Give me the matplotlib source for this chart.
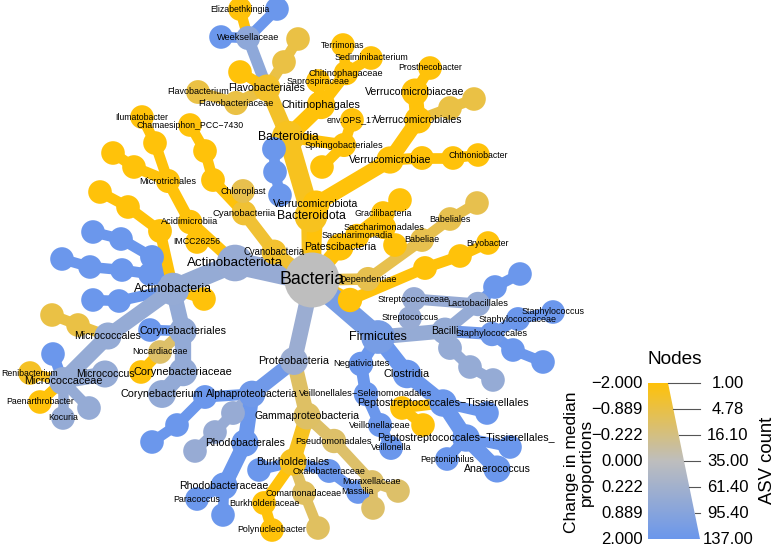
import numpy as np
import matplotlib
import matplotlib.pyplot as plt
from matplotlib.collections import LineCollection
from matplotlib.colors import LinearSegmentedColormap
from matplotlib.patches import Circle, Polygon

plt.rcParams['font.family'] = ['Liberation Sans', 'DejaVu Sans']

# legend scales (equally spaced ticks)
change_ticks = [-2.0, -0.889, -0.222, 0.0, 0.222, 0.889, 2.0]
asv_ticks = [1.00, 4.78, 16.10, 35.00, 61.40, 95.40, 137.00]

# taxonomy: child -> parent (names starting with "_" are drawn without label)
parent = {
    'Bacteria': None,
    'Actinobacteriota': 'Bacteria', 'Actinobacteria': 'Actinobacteriota',
    '_act_o1': 'Actinobacteria', '_act_f1': '_act_o1', '_act_g1': '_act_f1',
    '_act_o2': 'Actinobacteria', '_act_f2': '_act_o2', '_act_g2': '_act_f2', '_act_s2': '_act_g2',
    '_act_o3': 'Actinobacteria', '_act_g3': '_act_o3',
    '_act_y1': 'Actinobacteria',
    '_act_oy': 'Actinobacteria', '_act_fy': '_act_oy', '_act_gy': '_act_fy',
    'Micrococcales': 'Actinobacteria', '_mic_f1': 'Micrococcales', '_mic_g1': '_mic_f1',
    'Micrococcaceae': 'Micrococcales', '_mic_b': 'Micrococcaceae', 'Micrococcus': 'Micrococcaceae',
    'Renibacterium': 'Micrococcaceae', 'Paenarthrobacter': 'Micrococcaceae',
    'Kocuria': 'Micrococcaceae', '_mic_g5': 'Micrococcaceae',
    'Corynebacteriales': 'Actinobacteria', '_cor_b': 'Corynebacteriales',
    'Nocardiaceae': 'Corynebacteriales', '_noc_g': 'Nocardiaceae',
    'Corynebacteriaceae': 'Corynebacteriales', 'Corynebacterium': 'Corynebacteriaceae',
    'Acidimicrobiia': 'Actinobacteriota', 'IMCC26256': 'Acidimicrobiia',
    'Microtrichales': 'Acidimicrobiia', '_mt_f1': 'Microtrichales', 'Ilumatobacter': '_mt_f1',
    '_mt_f2': 'Microtrichales', '_mt_g2': '_mt_f2',
    'Cyanobacteria': 'Bacteria', 'Cyanobacteriia': 'Cyanobacteria', 'Chloroplast': 'Cyanobacteriia',
    '_cy_o': 'Cyanobacteriia', '_cy_f': '_cy_o', 'Chamaesiphon_PCC\u22127430': '_cy_f',
    'Bacteroidota': 'Bacteria', 'Bacteroidia': 'Bacteroidota',
    '_bd_o': 'Bacteroidia', '_bd_f': '_bd_o', '_bd_g': '_bd_f',
    'Flavobacteriales': 'Bacteroidia', 'Weeksellaceae': 'Flavobacteriales',
    '_wk_b1': 'Weeksellaceae', '_wk_b2': 'Weeksellaceae', 'Elizabethkingia': 'Weeksellaceae',
    '_fl_f1': 'Flavobacteriales', '_fl_g1': '_fl_f1', '_fl_y': 'Flavobacteriales',
    'Flavobacteriaceae': 'Flavobacteriales', 'Flavobacterium': 'Flavobacteriaceae',
    'Chitinophagales': 'Bacteroidia', 'Saprospiraceae': 'Chitinophagales',
    'Chitinophagaceae': 'Chitinophagales', 'Terrimonas': 'Chitinophagaceae',
    'Sediminibacterium': 'Chitinophagaceae',
    'Sphingobacteriales': 'Bacteroidia', 'env.OPS_17': 'Sphingobacteriales', '_sph_y': 'Sphingobacteriales',
    'Verrucomicrobiota': 'Bacteria', 'Verrucomicrobiae': 'Verrucomicrobiota',
    'Verrucomicrobiales': 'Verrucomicrobiae', 'Verrucomicrobiaceae': 'Verrucomicrobiales',
    'Prosthecobacter': 'Verrucomicrobiaceae', '_vr_f2': 'Verrucomicrobiales', '_vr_g2': '_vr_f2',
    '_ch_o': 'Verrucomicrobiae', '_ch_f': '_ch_o', 'Chthoniobacter': '_ch_f',
    'Patescibacteria': 'Bacteria', 'Saccharimonadia': 'Patescibacteria',
    'Saccharimonadales': 'Saccharimonadia', '_sac_g': 'Saccharimonadales',
    'Gracilibacteria': 'Patescibacteria', '_gr_g': 'Gracilibacteria',
    'Dependentiae': 'Bacteria', 'Babeliae': 'Dependentiae', 'Babeliales': 'Babeliae', '_bab_g': 'Babeliales',
    '_acb_p': 'Bacteria', '_acb_c': '_acb_p', '_acb_o': '_acb_c', 'Bryobacter': '_acb_o',
    'Firmicutes': 'Bacteria', 'Bacilli': 'Firmicutes', 'Lactobacillales': 'Bacilli',
    'Streptococcaceae': 'Lactobacillales', 'Streptococcus': 'Streptococcaceae',
    '_lac_f': 'Lactobacillales', '_lac_g': '_lac_f',
    'Staphylococcales': 'Bacilli', 'Staphylococcaceae': 'Staphylococcales',
    'Staphylococcus': 'Staphylococcaceae', '_st_f': 'Staphylococcales', '_st_g': '_st_f',
    '_bac_o3': 'Bacilli', '_bac_f3': '_bac_o3', '_bac_g3': '_bac_f3',
    'Clostridia': 'Firmicutes',
    'Peptostreptococcales\u2212Tissierellales': 'Clostridia',
    '_pt_y': 'Peptostreptococcales\u2212Tissierellales', '_pt_y2': '_pt_y',
    '_pt_b': 'Peptostreptococcales\u2212Tissierellales',
    'Peptostreptococcales\u2212Tissierellales_': 'Peptostreptococcales\u2212Tissierellales',
    'Peptoniphilus': 'Peptostreptococcales\u2212Tissierellales_',
    'Anaerococcus': 'Peptostreptococcales\u2212Tissierellales_',
    '_ptf_b': 'Peptostreptococcales\u2212Tissierellales_',
    'Negativicutes': 'Firmicutes', 'Veillonellales\u2212Selenomonadales': 'Negativicutes',
    'Veillonellaceae': 'Veillonellales\u2212Selenomonadales', 'Veillonella': 'Veillonellaceae',
    'Proteobacteria': 'Bacteria', 'Alphaproteobacteria': 'Proteobacteria',
    '_al_o1': 'Alphaproteobacteria', '_al_f1': '_al_o1', '_al_g1': '_al_f1',
    '_al_o2': 'Alphaproteobacteria', '_al_f2': '_al_o2', '_al_g2': '_al_f2',
    'Rhodobacterales': 'Alphaproteobacteria', 'Rhodobacteraceae': 'Rhodobacterales',
    'Paracoccus': 'Rhodobacteraceae', '_rb_g': 'Rhodobacteraceae',
    'Gammaproteobacteria': 'Proteobacteria', 'Burkholderiales': 'Gammaproteobacteria',
    '_bk_b1': 'Burkholderiales', 'Oxalobacteraceae': 'Burkholderiales', 'Massilia': 'Oxalobacteraceae',
    'Comamonadaceae': 'Burkholderiales', '_cm_g': 'Comamonadaceae',
    'Burkholderiaceae': 'Burkholderiales', 'Polynucleobacter': 'Burkholderiaceae',
    'Pseudomonadales': 'Gammaproteobacteria', 'Moraxellaceae': 'Pseudomonadales',
    '_mx_g1': 'Moraxellaceae', '_mx_g2': 'Moraxellaceae',
}

# ASV count per taxon
asv = {
    'Bacteria': 137, 'Actinobacteriota': 60, 'Actinobacteria': 43,
    '_act_o1': 3, '_act_f1': 2, '_act_g1': 1, '_act_o2': 3, '_act_f2': 2, '_act_g2': 1, '_act_s2': 1,
    '_act_o3': 2, '_act_g3': 1, '_act_y1': 1, '_act_oy': 3, '_act_fy': 2, '_act_gy': 1,
    'Micrococcales': 18, '_mic_f1': 2, '_mic_g1': 1, 'Micrococcaceae': 22, '_mic_b': 1,
    'Micrococcus': 18, 'Renibacterium': 1, 'Paenarthrobacter': 1, 'Kocuria': 1, '_mic_g5': 2,
    'Corynebacteriales': 20, '_cor_b': 1, 'Nocardiaceae': 2, '_noc_g': 1,
    'Corynebacteriaceae': 25, 'Corynebacterium': 22,
    'Acidimicrobiia': 5, 'IMCC26256': 1, 'Microtrichales': 4, '_mt_f1': 2, 'Ilumatobacter': 1,
    '_mt_f2': 2, '_mt_g2': 1,
    'Cyanobacteria': 8, 'Cyanobacteriia': 7, 'Chloroplast': 3, '_cy_o': 3, '_cy_f': 2,
    'Chamaesiphon_PCC\u22127430': 1,
    'Bacteroidota': 44, 'Bacteroidia': 42, '_bd_o': 3, '_bd_f': 2, '_bd_g': 1,
    'Flavobacteriales': 18, 'Weeksellaceae': 4, '_wk_b1': 1, '_wk_b2': 1, 'Elizabethkingia': 1,
    '_fl_f1': 2, '_fl_g1': 1, '_fl_y': 1, 'Flavobacteriaceae': 4, 'Flavobacterium': 3,
    'Chitinophagales': 24, 'Saprospiraceae': 2, 'Chitinophagaceae': 5, 'Terrimonas': 1,
    'Sediminibacterium': 2, 'Sphingobacteriales': 4, 'env.OPS_17': 2, '_sph_y': 1,
    'Verrucomicrobiota': 18, 'Verrucomicrobiae': 19, 'Verrucomicrobiales': 17,
    'Verrucomicrobiaceae': 18, 'Prosthecobacter': 1, '_vr_f2': 2, '_vr_g2': 1,
    '_ch_o': 3, '_ch_f': 2, 'Chthoniobacter': 1,
    'Patescibacteria': 18, 'Saccharimonadia': 5, 'Saccharimonadales': 4, '_sac_g': 2,
    'Gracilibacteria': 2, '_gr_g': 1,
    'Dependentiae': 4, 'Babeliae': 3, 'Babeliales': 2, '_bab_g': 1,
    '_acb_p': 5, '_acb_c': 3, '_acb_o': 2, 'Bryobacter': 1,
    'Firmicutes': 48, 'Bacilli': 17, 'Lactobacillales': 5, 'Streptococcaceae': 3, 'Streptococcus': 2,
    '_lac_f': 2, '_lac_g': 1, 'Staphylococcales': 5, 'Staphylococcaceae': 3, 'Staphylococcus': 2,
    '_st_f': 2, '_st_g': 1, '_bac_o3': 3, '_bac_f3': 2, '_bac_g3': 1,
    'Clostridia': 25, 'Peptostreptococcales\u2212Tissierellales': 20, '_pt_y': 2, '_pt_y2': 1, '_pt_b': 1,
    'Peptostreptococcales\u2212Tissierellales_': 20, 'Peptoniphilus': 2, 'Anaerococcus': 18, '_ptf_b': 1,
    'Negativicutes': 6, 'Veillonellales\u2212Selenomonadales': 5, 'Veillonellaceae': 4, 'Veillonella': 3,
    'Proteobacteria': 22, 'Alphaproteobacteria': 16,
    '_al_o1': 3, '_al_f1': 2, '_al_g1': 1, '_al_o2': 3, '_al_f2': 2, '_al_g2': 1,
    'Rhodobacterales': 18, 'Rhodobacteraceae': 18, 'Paracoccus': 2, '_rb_g': 1,
    'Gammaproteobacteria': 18, 'Burkholderiales': 18, '_bk_b1': 1, 'Oxalobacteraceae': 3,
    'Massilia': 2, 'Comamonadaceae': 3, '_cm_g': 1, 'Burkholderiaceae': 3, 'Polynucleobacter': 2,
    'Pseudomonadales': 5, 'Moraxellaceae': 3, '_mx_g1': 1, '_mx_g2': 1,
}

# change in median proportions per taxon
change = {
    'Bacteria': 0.0, 'Actinobacteriota': 0.5, 'Actinobacteria': 0.55,
    '_act_o1': 2, '_act_f1': 2, '_act_g1': 2, '_act_o2': 2, '_act_f2': 2, '_act_g2': 2, '_act_s2': 2,
    '_act_o3': 2, '_act_g3': 2, '_act_y1': -2, '_act_oy': -2, '_act_fy': -2, '_act_gy': -2,
    'Micrococcales': 0.55, '_mic_f1': -0.9, '_mic_g1': -0.9, 'Micrococcaceae': 0.55, '_mic_b': 2,
    'Micrococcus': 0.55, 'Renibacterium': -1.5, 'Paenarthrobacter': -2, 'Kocuria': 0.55, '_mic_g5': 0.55,
    'Corynebacteriales': 0.6, '_cor_b': 2, 'Nocardiaceae': -0.5, '_noc_g': -2,
    'Corynebacteriaceae': 0.6, 'Corynebacterium': 0.6,
    'Acidimicrobiia': -2, 'IMCC26256': -2, 'Microtrichales': -2, '_mt_f1': -2, 'Ilumatobacter': -2,
    '_mt_f2': -2, '_mt_g2': -2,
    'Cyanobacteria': -1.3, 'Cyanobacteriia': -1.2, 'Chloroplast': -0.8, '_cy_o': -2, '_cy_f': -2,
    'Chamaesiphon_PCC\u22127430': -2,
    'Bacteroidota': -1.6, 'Bacteroidia': -1.6, '_bd_o': 2, '_bd_f': 2, '_bd_g': 2,
    'Flavobacteriales': -1.4, 'Weeksellaceae': 0.7, '_wk_b1': 2, '_wk_b2': 2, 'Elizabethkingia': -2,
    '_fl_f1': -0.9, '_fl_g1': -0.9, '_fl_y': -2, 'Flavobacteriaceae': -0.9, 'Flavobacterium': -0.9,
    'Chitinophagales': -2, 'Saprospiraceae': -2, 'Chitinophagaceae': -2, 'Terrimonas': -2,
    'Sediminibacterium': -2, 'Sphingobacteriales': -2, 'env.OPS_17': -2, '_sph_y': -2,
    'Verrucomicrobiota': -2, 'Verrucomicrobiae': -2, 'Verrucomicrobiales': -2,
    'Verrucomicrobiaceae': -2, 'Prosthecobacter': -2, '_vr_f2': -0.9, '_vr_g2': -0.9,
    '_ch_o': -2, '_ch_f': -2, 'Chthoniobacter': -2,
    'Patescibacteria': -2, 'Saccharimonadia': -2, 'Saccharimonadales': -2, '_sac_g': -2,
    'Gracilibacteria': -2, '_gr_g': -2,
    'Dependentiae': -0.8, 'Babeliae': -0.8, 'Babeliales': -0.8, '_bab_g': -0.8,
    '_acb_p': -2, '_acb_c': -2, '_acb_o': -2, 'Bryobacter': -2,
    'Firmicutes': 1.5, 'Bacilli': 0.55, 'Lactobacillales': 0.55, 'Streptococcaceae': 0.5,
    'Streptococcus': 0.5, '_lac_f': 2, '_lac_g': 2, 'Staphylococcales': 1.8, 'Staphylococcaceae': 2,
    'Staphylococcus': 2, '_st_f': 2, '_st_g': 2, '_bac_o3': 0.55, '_bac_f3': 0.55, '_bac_g3': 0.55,
    'Clostridia': 2, 'Peptostreptococcales\u2212Tissierellales': 2, '_pt_y': -2, '_pt_y2': -2, '_pt_b': 2,
    'Peptostreptococcales\u2212Tissierellales_': 2, 'Peptoniphilus': 2, 'Anaerococcus': 2, '_ptf_b': 2,
    'Negativicutes': 2, 'Veillonellales\u2212Selenomonadales': 2, 'Veillonellaceae': 2, 'Veillonella': 2,
    'Proteobacteria': 0.4, 'Alphaproteobacteria': 1.8,
    '_al_o1': 2, '_al_f1': 2, '_al_g1': 2, '_al_o2': 0.5, '_al_f2': 0.5, '_al_g2': 0.5,
    'Rhodobacterales': 2, 'Rhodobacteraceae': 2, 'Paracoccus': 2, '_rb_g': 2,
    'Gammaproteobacteria': -0.55, 'Burkholderiales': -1.6, '_bk_b1': 2, 'Oxalobacteraceae': 2,
    'Massilia': 2, 'Comamonadaceae': -0.6, '_cm_g': -0.6, 'Burkholderiaceae': -2, 'Polynucleobacter': -2,
    'Pseudomonadales': -0.5, 'Moraxellaceae': -0.5, '_mx_g1': -0.5, '_mx_g2': -0.5,
}

# tree layout (pixel space, y down)
layout = {
    'Bacteria': (312, 280), 'Actinobacteriota': (235, 263), 'Actinobacteria': (173, 289),
    '_act_o1': (152, 257), '_act_f1': (121, 239), '_act_g1': (93, 232),
    '_act_o2': (150, 274), '_act_f2': (122, 270), '_act_g2': (90, 267), '_act_s2': (62, 259),
    '_act_o3': (119, 301), '_act_g3': (93, 300), '_act_y1': (204, 299),
    '_act_oy': (160, 231), '_act_fy': (128, 207), '_act_gy': (100, 192),
    'Micrococcales': (108, 336), '_mic_f1': (78, 325), '_mic_g1': (52, 315),
    'Micrococcaceae': (63, 381), '_mic_b': (53, 354), 'Micrococcus': (105, 374),
    'Renibacterium': (30, 373), 'Paenarthrobacter': (40, 402), 'Kocuria': (63, 418), '_mic_g5': (89, 408),
    'Corynebacteriales': (183, 331), '_cor_b': (150, 330), 'Nocardiaceae': (160, 352), '_noc_g': (141, 372),
    'Corynebacteriaceae': (183, 372), 'Corynebacterium': (162, 394),
    'Acidimicrobiia': (190, 222), 'IMCC26256': (197, 242), 'Microtrichales': (168, 181),
    '_mt_f1': (155, 143), 'Ilumatobacter': (142, 117), '_mt_f2': (134, 167), '_mt_g2': (113, 153),
    'Cyanobacteria': (274, 252), 'Cyanobacteriia': (244, 213), 'Chloroplast': (243, 191),
    '_cy_o': (213, 180), '_cy_f': (205, 151), 'Chamaesiphon_PCC\u22127430': (190, 125),
    'Bacteroidota': (311, 216), 'Bacteroidia': (288, 137),
    '_bd_o': (274, 149), '_bd_f': (275, 172), '_bd_g': (280, 195),
    'Flavobacteriales': (267, 88), 'Weeksellaceae': (248, 38), '_wk_b1': (221, 37), '_wk_b2': (277, 9),
    'Elizabethkingia': (240, 9), '_fl_f1': (284, 62), '_fl_g1': (298, 39), '_fl_y': (240, 72),
    'Flavobacteriaceae': (236, 103), 'Flavobacterium': (198, 92),
    'Chitinophagales': (321, 105), 'Saprospiraceae': (318, 81), 'Chitinophagaceae': (346, 73),
    'Terrimonas': (343, 45), 'Sediminibacterium': (371, 58),
    'Sphingobacteriales': (344, 145), 'env.OPS_17': (352, 120), '_sph_y': (322, 167),
    'Verrucomicrobiota': (316, 204), 'Verrucomicrobiae': (390, 160), 'Verrucomicrobiales': (418, 120),
    'Verrucomicrobiaceae': (415, 92), 'Prosthecobacter': (430, 68), '_vr_f2': (450, 108), '_vr_g2': (474, 99),
    '_ch_o': (422, 158), '_ch_f': (453, 158), 'Chthoniobacter': (478, 155),
    'Patescibacteria': (340, 247), 'Saccharimonadia': (357, 236), 'Saccharimonadales': (384, 227),
    '_sac_g': (395, 245), 'Gracilibacteria': (383, 213), '_gr_g': (400, 200),
    'Dependentiae': (368, 279), 'Babeliae': (422, 240), 'Babeliales': (450, 219), '_bab_g': (477, 203),
    '_acb_p': (350, 300), '_acb_c': (425, 268), '_acb_o': (460, 256), 'Bryobacter': (488, 243),
    'Firmicutes': (378, 337), 'Bacilli': (445, 331), 'Lactobacillales': (478, 304),
    'Streptococcaceae': (414, 299), 'Streptococcus': (410, 318), '_lac_f': (495, 287), '_lac_g': (520, 274),
    'Staphylococcales': (492, 334), 'Staphylococcaceae': (518, 319), 'Staphylococcus': (553, 312),
    '_st_f': (513, 350), '_st_g': (543, 362),
    '_bac_o3': (450, 348), '_bac_f3': (470, 367), '_bac_g3': (493, 380),
    'Clostridia': (407, 374), 'Peptostreptococcales\u2212Tissierellales': (443, 403),
    '_pt_y': (402, 408), '_pt_y2': (423, 425), '_pt_b': (487, 413),
    'Peptostreptococcales\u2212Tissierellales_': (466, 438), 'Peptoniphilus': (447, 459),
    'Anaerococcus': (497, 469), '_ptf_b': (510, 447),
    'Negativicutes': (361, 364), 'Veillonellales\u2212Selenomonadales': (366, 394),
    'Veillonellaceae': (380, 425), 'Veillonella': (391, 448),
    'Proteobacteria': (294, 361), 'Alphaproteobacteria': (252, 394),
    '_al_o1': (205, 397), '_al_f1': (177, 425), '_al_g1': (152, 442),
    '_al_o2': (233, 413), '_al_f2': (215, 432), '_al_g2': (195, 451),
    'Rhodobacterales': (245, 443), 'Rhodobacteraceae': (224, 486), 'Paracoccus': (197, 499), '_rb_g': (223, 515),
    'Gammaproteobacteria': (307, 416), 'Burkholderiales': (293, 462), '_bk_b1': (259, 470),
    'Oxalobacteraceae': (329, 471), 'Massilia': (358, 492), 'Comamonadaceae': (304, 493),
    '_cm_g': (318, 528), 'Burkholderiaceae': (264, 503), 'Polynucleobacter': (272, 530),
    'Pseudomonadales': (334, 441), 'Moraxellaceae': (372, 482), '_mx_g1': (398, 491), '_mx_g2': (373, 508),
}

cmap = LinearSegmentedColormap.from_list('tree', ['#FFC20A', '#BEBEBE', '#6B97EC'])
levels = np.linspace(0, 1, 7)


def color_of(name):
    return cmap(np.interp(change[name], change_ticks, levels))


def size_of(name):
    return np.interp(asv[name], asv_ticks, levels)


PT = 0.72  # points per pixel at dpi 100

fig = plt.figure(figsize=(7.78, 5.45), dpi=100)
ax = fig.add_axes([0, 0, 1, 1])
ax.set_xlim(0, 778)
ax.set_ylim(545, 0)
ax.axis('off')

# edges
segs, widths, ecols = [], [], []
for name, par in parent.items():
    if par is None:
        continue
    segs.append([layout[par], layout[name]])
    t = size_of(name)
    widths.append((10.5 + 22 * t ** 1.5) * PT)
    ecols.append(color_of(name))
ax.add_collection(LineCollection(segs, linewidths=widths, colors=ecols,
                                 capstyle='round', zorder=1))

# nodes
for name in parent:
    t = size_of(name)
    r = 11.8 + 15.7 * t ** 2.1
    ax.add_patch(Circle(layout[name], r, facecolor=color_of(name),
                        edgecolor='none', zorder=2))

# labels
for name in parent:
    if name.startswith('_'):
        continue
    t = size_of(name)
    fs = (8.8 + 8.9 * t ** 1.6) * PT
    x, y = layout[name]
    ax.text(x, y, name, ha='center', va='center', fontsize=fs, color='black', zorder=3)

# legend wedge
top, bot = 383, 539
xl, xr_top, xr_bot = 648, 668, 700
grad = np.linspace(0, 1, 256).reshape(-1, 1)
im = ax.imshow(grad, extent=(xl, xr_bot, bot, top), origin='upper', cmap=cmap,
               aspect='auto', zorder=4)
wedge = Polygon([(xl, top), (xr_top, top), (xr_bot, bot), (xl, bot)], closed=True,
                transform=ax.transData, facecolor='none', edgecolor='none')
ax.add_patch(wedge)
im.set_clip_path(wedge)
ax.set_xlim(0, 778)
ax.set_ylim(545, 0)

for i, (cv, av) in enumerate(zip(change_ticks, asv_ticks)):
    y = top + (bot - top) * i / 6
    xe = xr_top + (xr_bot - xr_top) * i / 6
    ax.plot([xe, xr_bot], [y, y], color='#555555', lw=0.8, zorder=5)
    ax.text(643, y, f'{cv:.3f}'.replace('-', '\u2212'), ha='right', va='center',
            fontsize=12, zorder=5)
    ax.text(728, y, f'{av:.2f}', ha='center', va='center', fontsize=12, zorder=5)

ax.text(675, 360, 'Nodes', ha='center', va='center', fontsize=13.7, zorder=5)
ax.text(579, 462, 'Change in median\nproportions', ha='center', va='center',
        rotation=90, fontsize=12.5, linespacing=0.95, zorder=5)
ax.text(768, 460, 'ASV count', ha='center', va='center', rotation=90, fontsize=13.3, zorder=5)

fig.savefig('out.png', dpi=100)
